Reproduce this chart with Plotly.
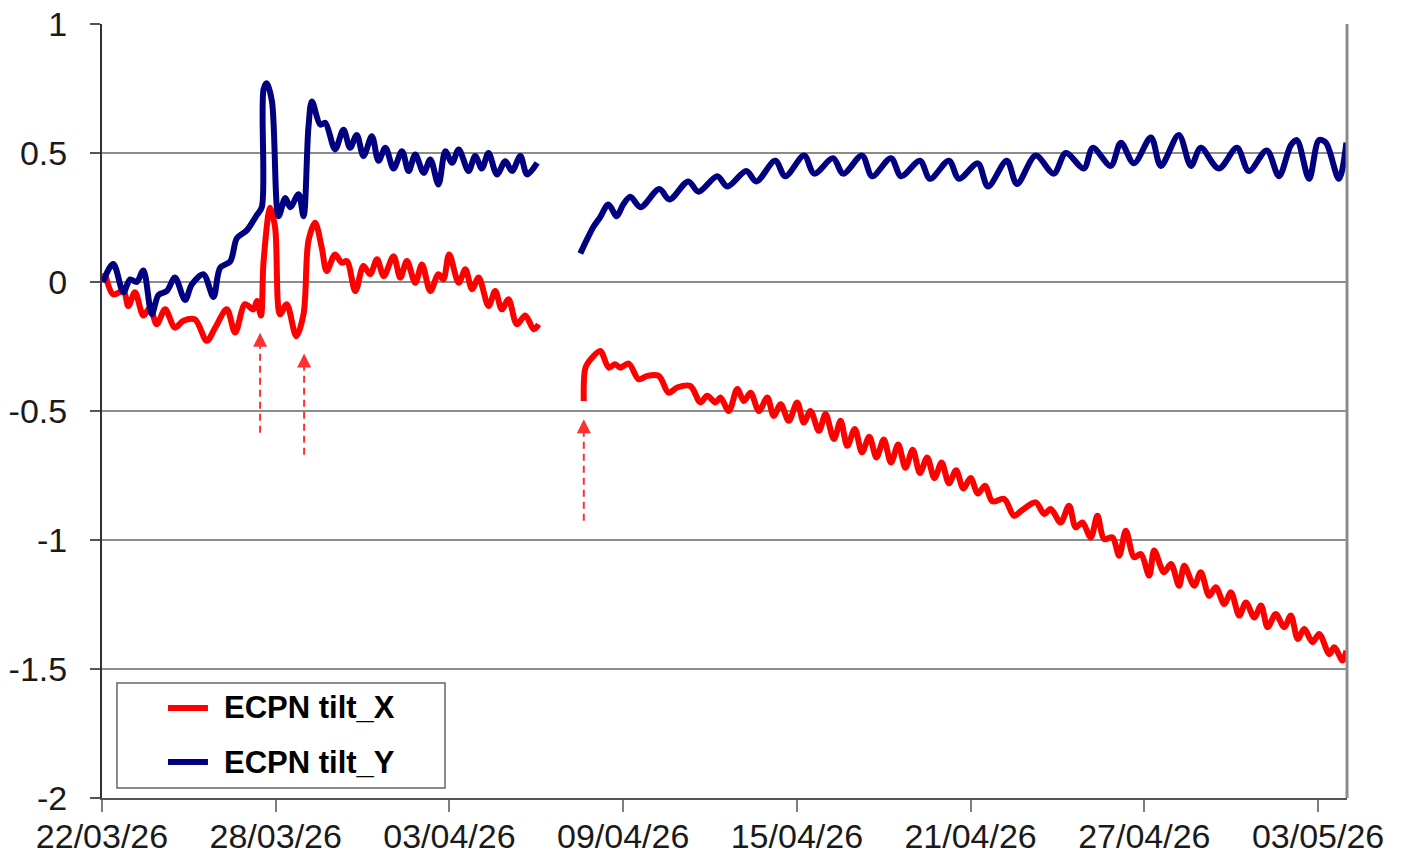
import pandas as pd
import plotly.graph_objects as go

# Time axis: offsets in days from 22/03/26 00:00
START = pd.Timestamp("2026-03-22")

# ECPN tilt_Y, first segment
tilt_y_days_a = [0.03, 0.39, 0.74, 0.97, 1.2, 1.43, 1.72, 1.95, 2.24, 2.52, 2.87, 3.1, 3.5, 3.85,
                 4.08, 4.43, 4.66, 5.0, 5.35, 5.52, 5.58, 5.69, 5.87, 6.1, 6.33, 6.5, 6.79, 6.96,
                 7.13, 7.25, 7.54, 7.71, 8.05, 8.34, 8.57, 8.8, 9.03, 9.32, 9.55, 9.79, 10.07,
                 10.36, 10.59, 10.82, 11.11, 11.34, 11.62, 11.86, 12.09, 12.32, 12.66, 12.89,
                 13.12, 13.35, 13.64, 13.93, 14.16, 14.45, 14.68, 15.03]
tilt_y_a = [0.0, 0.07, -0.04, 0.01, 0.0, 0.045, -0.125, -0.05, -0.035, 0.017, -0.07, -0.01, 0.03,
            -0.058, 0.055, 0.08, 0.17, 0.2, 0.26, 0.29, 0.746, 0.77, 0.70, 0.255, 0.326, 0.29,
            0.34, 0.255, 0.60, 0.70, 0.61, 0.617, 0.514, 0.59, 0.52, 0.57, 0.488, 0.565, 0.47,
            0.52, 0.44, 0.507, 0.43, 0.494, 0.423, 0.475, 0.378, 0.507, 0.462, 0.514, 0.43,
            0.488, 0.44, 0.50, 0.417, 0.468, 0.43, 0.488, 0.417, 0.462]

# ECPN tilt_Y, second segment
tilt_y_days_b = [16.52, 16.75, 16.98, 17.2, 17.49, 17.78, 18.0, 18.25, 18.6, 19.25, 19.6, 20.25,
                 20.6, 21.25, 21.6, 22.25, 22.6, 23.25, 23.6, 24.25, 24.6, 25.25, 25.6, 26.25,
                 26.6, 27.25, 27.6, 28.25, 28.6, 29.25, 29.6, 30.25, 30.6, 31.25, 31.6, 32.25,
                 32.87, 33.29, 33.91, 34.22, 34.84, 35.19, 35.64, 36.23, 36.57, 37.19, 37.61,
                 37.95, 38.57, 39.2, 39.61, 40.23, 40.65, 41.06, 41.27, 41.69, 42.03, 42.27,
                 42.72, 42.98]
tilt_y_b = [0.11, 0.165, 0.215, 0.25, 0.30, 0.255, 0.30, 0.33, 0.29, 0.36, 0.32, 0.39, 0.35,
            0.41, 0.37, 0.43, 0.39, 0.47, 0.41, 0.49, 0.42, 0.48, 0.42, 0.49, 0.41, 0.48, 0.41,
            0.47, 0.40, 0.47, 0.40, 0.46, 0.37, 0.47, 0.38, 0.49, 0.42, 0.50, 0.44, 0.52, 0.45,
            0.54, 0.46, 0.56, 0.45, 0.57, 0.45, 0.52, 0.44, 0.52, 0.43, 0.51, 0.41, 0.53, 0.55,
            0.40, 0.55, 0.54, 0.40, 0.54]

# ECPN tilt_X, first segment
tilt_x_days_a = [0.1, 0.39, 0.74, 0.91, 1.14, 1.43, 1.66, 1.89, 2.18, 2.52, 2.81, 3.21, 3.62,
                 3.91, 4.31, 4.6, 4.94, 5.23, 5.35, 5.49, 5.58, 5.81, 5.98, 6.15, 6.38, 6.71,
                 6.96, 7.13, 7.36, 7.59, 7.76, 8.05, 8.28, 8.46, 8.75, 9.03, 9.26, 9.5, 9.73,
                 10.07, 10.3, 10.53, 10.82, 11.05, 11.34, 11.62, 11.79, 11.99, 12.32, 12.55,
                 12.78, 13.01, 13.35, 13.58, 13.81, 14.04, 14.33, 14.62, 14.91, 15.08]
tilt_x_a = [0.036, -0.048, -0.035, -0.093, -0.04, -0.13, -0.1, -0.164, -0.106, -0.177, -0.15,
            -0.145, -0.228, -0.177, -0.106, -0.196, -0.086, -0.106, -0.074, -0.13, 0.08, 0.288,
            0.21, -0.125, -0.086, -0.21, -0.125, 0.159, 0.23, 0.133, 0.043, 0.107, 0.075, 0.081,
            -0.035, 0.062, 0.03, 0.088, 0.023, 0.10, 0.017, 0.081, -0.003, 0.068, -0.035, 0.03,
            0.01, 0.107, -0.003, 0.049, -0.028, 0.017, -0.093, -0.035, -0.106, -0.067, -0.164,
            -0.13, -0.183, -0.164]

# ECPN tilt_X, second segment
tilt_x_days_b = [16.64, 16.7, 16.93, 17.21, 17.5, 17.72, 17.9, 18.19, 18.54, 18.83, 19.23,
                 19.57, 19.86, 20.32, 20.67, 20.9, 21.19, 21.36, 21.65, 21.94, 22.17, 22.4,
                 22.69, 22.98, 23.2, 23.44, 23.72, 24.01, 24.24, 24.47, 24.76, 24.99, 25.28,
                 25.51, 25.74, 26.0, 26.25, 26.5, 26.75, 27.0, 27.25, 27.5, 27.75, 28.0, 28.25,
                 28.5, 28.75, 29.0, 29.25, 29.5, 29.75, 30.0, 30.25, 30.5, 30.75, 31.16, 31.5,
                 31.75, 32.25, 32.54, 32.77, 33.11, 33.4, 33.63, 33.86, 34.15, 34.38, 34.61,
                 34.9, 35.13, 35.36, 35.65, 35.88, 36.17, 36.34, 36.68, 36.92, 37.2, 37.38,
                 37.72, 37.95, 38.24, 38.47, 38.76, 38.99, 39.28, 39.51, 39.8, 40.03, 40.26,
                 40.54, 40.83, 41.06, 41.3, 41.52, 41.81, 42.04, 42.39, 42.56, 42.85, 42.98]
tilt_x_b = [-0.461, -0.332, -0.293, -0.267, -0.332, -0.319, -0.332, -0.316, -0.377, -0.364,
            -0.364, -0.429, -0.409, -0.403, -0.467, -0.441, -0.467, -0.448, -0.5, -0.415,
            -0.461, -0.429, -0.5, -0.448, -0.519, -0.474, -0.538, -0.467, -0.545, -0.5, -0.577,
            -0.512, -0.609, -0.538, -0.635, -0.57, -0.66, -0.60, -0.68, -0.61, -0.70, -0.63,
            -0.72, -0.65, -0.74, -0.68, -0.76, -0.70, -0.78, -0.73, -0.80, -0.76, -0.82, -0.79,
            -0.85, -0.841, -0.906, -0.887, -0.854, -0.899, -0.88, -0.932, -0.867, -0.951,
            -0.932, -0.99, -0.906, -0.996, -0.99, -1.061, -0.964, -1.067, -1.054, -1.138,
            -1.041, -1.125, -1.093, -1.177, -1.1, -1.177, -1.125, -1.216, -1.183, -1.248,
            -1.203, -1.293, -1.242, -1.3, -1.254, -1.338, -1.287, -1.338, -1.293, -1.384,
            -1.345, -1.396, -1.364, -1.442, -1.416, -1.467, -1.429]

# Event markers (dashed arrows): time, arrow tip and arrow base
event_days = [5.46, 6.98, 16.64]
event_tip = [-0.197, -0.277, -0.532]
event_base = [-0.584, -0.670, -0.925]

# Axis ticks
y_ticks = [1, 0.5, 0, -0.5, -1, -1.5, -2]
y_tick_text = ["1", "0.5", "0", "-0.5", "-1", "-1.5", "-2"]
x_tick_days = [0, 6, 12, 18, 24, 30, 36, 42]

series_names = ["ECPN tilt_X", "ECPN tilt_Y"]
series_colors = ["#ff0000", "#000080"]


def to_time(days):
    return [START + pd.Timedelta(days=d) for d in days]


def join(days_a, vals_a, days_b, vals_b):
    return to_time(days_a) + [None] + to_time(days_b), list(vals_a) + [None] + list(vals_b)


FONT = "Liberation Sans, Arial, sans-serif"

fig = go.Figure()

for name, color, (xs, ys) in [
    (series_names[0], series_colors[0], join(tilt_x_days_a, tilt_x_a, tilt_x_days_b, tilt_x_b)),
    (series_names[1], series_colors[1], join(tilt_y_days_a, tilt_y_a, tilt_y_days_b, tilt_y_b)),
]:
    fig.add_trace(go.Scatter(
        x=xs, y=ys, name=name, mode="lines", connectgaps=False,
        line=dict(color=color, width=6, shape="spline", smoothing=0.9),
        showlegend=False, hoverinfo="skip",
    ))

# Dashed event arrows
for d, tip, base in zip(event_days, event_tip, event_base):
    t = START + pd.Timedelta(days=d)
    fig.add_trace(go.Scatter(
        x=[t, t], y=[base, tip + (base - tip) * 0.08], mode="lines",
        line=dict(color="#ff3030", width=2, dash="7px,5px"),
        showlegend=False, hoverinfo="skip",
    ))
    fig.add_annotation(
        x=t, y=tip, ax=0, ay=12, axref="pixel", ayref="pixel",
        showarrow=True, arrowhead=2, arrowsize=1.4, arrowwidth=2,
        arrowcolor="#ff3030", text="",
    )

x_range = [START, START + pd.Timedelta(days=43)]

fig.update_layout(
    width=1404, height=856,
    margin=dict(l=102, r=57, t=24, b=58),
    paper_bgcolor="white", plot_bgcolor="white",
    font=dict(family=FONT, size=34, color="#1a1a1a"),
    xaxis=dict(
        type="date", range=x_range, automargin=False,
        tickvals=to_time(x_tick_days),
        ticktext=[(START + pd.Timedelta(days=d)).strftime("%d/%m/%y") for d in x_tick_days],
        ticks="outside", ticklen=12, tickwidth=2, tickcolor="#7f7f7f",
        showgrid=False, zeroline=False,
        showline=True, linecolor="#555555", linewidth=2,
        ticklabelstandoff=-5,
    ),
    yaxis=dict(
        range=[-2, 1], tickvals=y_ticks, ticktext=y_tick_text, automargin=False,
        ticks="outside", ticklen=10, tickwidth=2, tickcolor="#555555",
        showgrid=True, gridcolor="#8c8c8c", gridwidth=2,
        zeroline=False,
        showline=True, linecolor="#333333", linewidth=2,
        ticklabelstandoff=16,
    ),
)

# Right-hand frame edge
fig.add_shape(type="line", xref="paper", yref="paper", x0=1, x1=1, y0=0, y1=1,
              line=dict(color="#8c8c8c", width=3))

# Legend box drawn in plot-paper coordinates
fig.add_shape(type="rect", xref="paper", yref="paper",
              x0=0.012, x1=0.2755, y0=0.0129, y1=0.1486,
              line=dict(color="#666666", width=1.5), fillcolor="white")
for name, color, yp in zip(series_names, series_colors, [0.1163, 0.0465]):
    fig.add_shape(type="line", xref="paper", yref="paper",
                  x0=0.053, x1=0.0851, y0=yp, y1=yp,
                  line=dict(color=color, width=6))
    fig.add_annotation(xref="paper", yref="paper", x=0.0964, y=yp,
                       xanchor="left", yanchor="middle", showarrow=False,
                       text=f"<b>{name}</b>",
                       font=dict(family=FONT, size=31, color="#000000"))

fig.write_html("out.html")
